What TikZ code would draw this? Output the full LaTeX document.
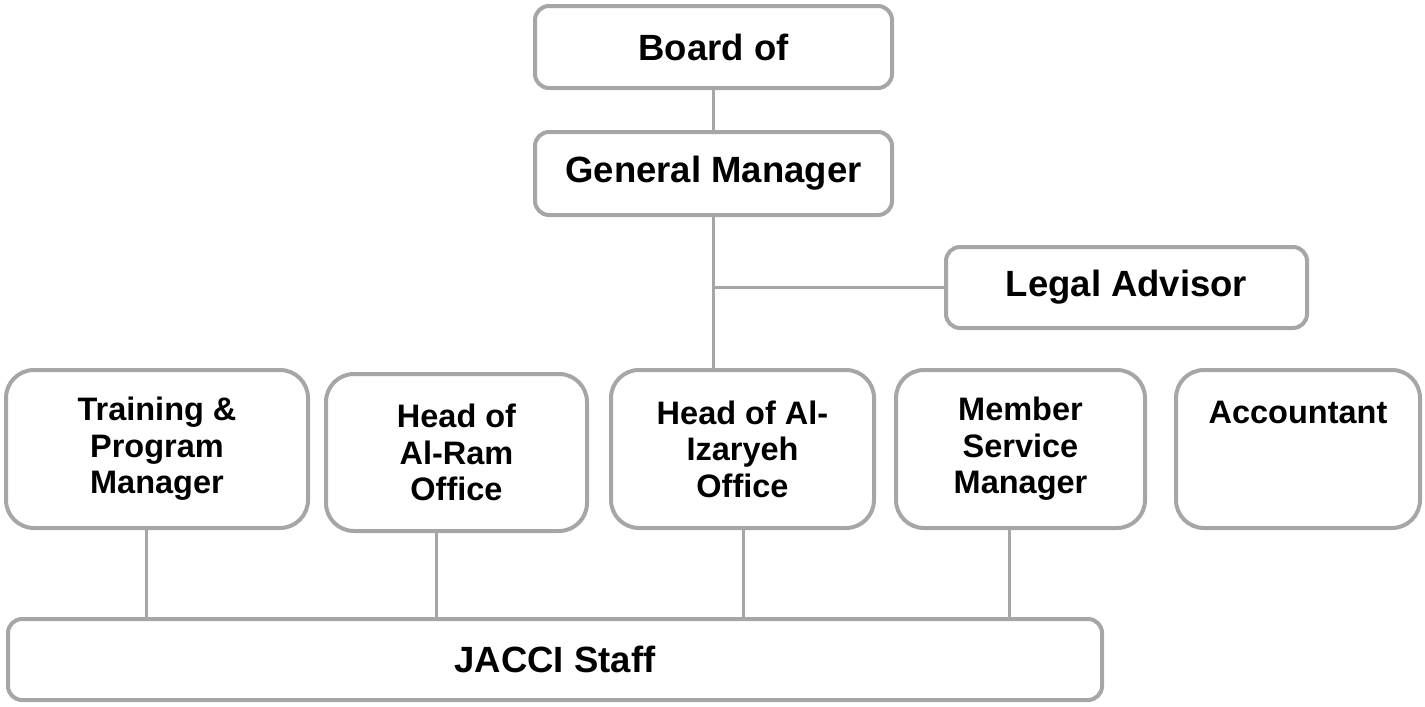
\documentclass[tikz,border=0pt]{standalone}
\usepackage{fontspec}
\setmainfont{Liberation Sans}
\usetikzlibrary{positioning}
\definecolor{boxgray}{HTML}{A6A6A6}

\begin{document}
\begin{tikzpicture}[x=1pt,y=-1pt,
  box/.style={draw=boxgray,line width=4pt,rounded corners=14pt,fill=white,
    inner sep=0pt,align=center,font=\bfseries\fontsize{36.5}{43}\selectfont},
  unit/.style={box,rounded corners=28pt,minimum height=158pt,
    font=\bfseries\fontsize{32.5}{36.5}\selectfont},
  link/.style={draw=boxgray,line width=3pt}]
  \useasboundingbox (0,0) rectangle (1425,707);
  % top of the chart
  \node[box,minimum width=357pt,minimum height=82pt] (board) at (713.5,47) {Board of};
  \node[box,minimum width=357pt,minimum height=83pt] (gm) at (713.5,173.5) {General Manager};
  \node[box,minimum width=361pt,minimum height=81pt] (legal) at (1126.5,287.5) {Legal Advisor};
  % units
  \node[unit,minimum width=302pt] (train) at (157,449) {Training \&\\Program\\Manager};
  \node[unit,minimum width=261pt,minimum height=157pt] (alram) at (456.5,452.5) {Head of\\Al-Ram\\Office};
  \node[unit,minimum width=263pt] (izar) at (742.5,449) {Head of Al-\\Izaryeh\\Office};
  \node[unit,minimum width=249pt] (member) at (1020.5,449) {Member\\Service\\Manager};
  \node[unit,minimum width=244pt] (acct) at (1298,449) {Accountant\\~\\~};
  \node[box,minimum width=1094pt,minimum height=81pt] (staff) at (555,659.5) {JACCI Staff};
  % connectors
  \draw[link] (board) -- (gm);
  \draw[link] (gm.south) -- (izar.north -| gm.south);
  \draw[link] (gm.south |- legal.west) -- (legal.west);
  \foreach \n/\x in {train/146,alram/436,izar/743,member/1009} {
    \path (\x,0) coordinate (c\n);
    \draw[link] (\n.south -| c\n) -- (staff.north -| c\n);
  }
\end{tikzpicture}
\end{document}
